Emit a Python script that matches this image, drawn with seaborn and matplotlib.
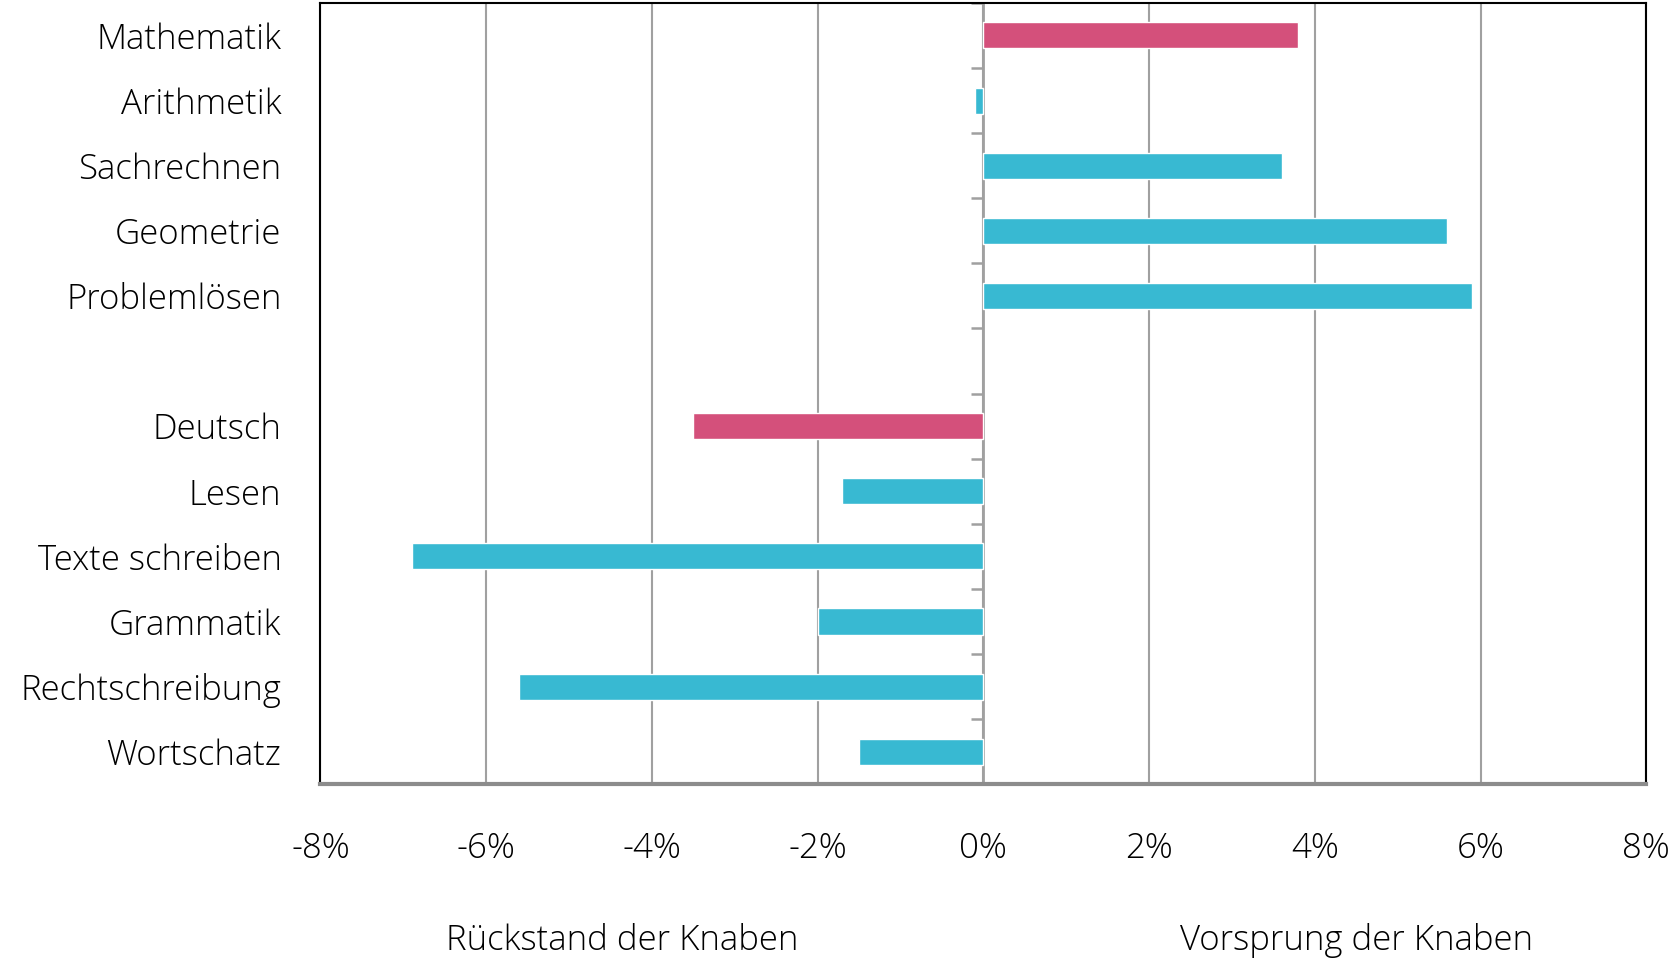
import pandas as pd
import matplotlib.pyplot as plt
import seaborn as sns
from matplotlib.ticker import FuncFormatter

# Daten: Differenz Knaben - Mädchen (in %)
faecher = ['Mathematik', 'Arithmetik', 'Sachrechnen', 'Geometrie', 'Problemlösen', ' ',
           'Deutsch', 'Lesen', 'Texte schreiben', 'Grammatik', 'Rechtschreibung', 'Wortschatz']
werte = [3.8, -0.1, 3.6, 5.6, 5.9, None,
         -3.5, -1.7, -6.9, -2.0, -5.6, -1.5]
ebene = ['Gesamt', 'Teil', 'Teil', 'Teil', 'Teil', 'Teil',
         'Gesamt', 'Teil', 'Teil', 'Teil', 'Teil', 'Teil']
x_ticks = [-8, -6, -4, -2, 0, 2, 4, 6, 8]

farben = {'Gesamt': '#D4507B', 'Teil': '#38B9D2'}

df = pd.DataFrame({'fach': faecher, 'wert': werte, 'ebene': ebene})

sns.set_theme(style='white')
plt.rcParams['font.family'] = ['Open Sans', 'DejaVu Sans']
plt.rcParams['text.color'] = 'black'

fig, ax = plt.subplots(figsize=(16.73, 9.6), dpi=100)
fig.subplots_adjust(left=0.1915, right=0.984, top=0.997, bottom=0.183)

sns.barplot(data=df, x='wert', y='fach', hue='ebene', order=faecher,
            palette=farben, dodge=False, legend=False, width=0.4,
            orient='h', ax=ax, saturation=1)

ax.set_xlim(-8, 8)
ax.set_ylim(len(faecher) - 0.5, -0.5)
ax.set_xticks(x_ticks)
ax.xaxis.set_major_formatter(FuncFormatter(lambda v, p: f'{v:.0f}%'))
ax.grid(axis='x', color='#A0A0A0', linewidth=1.5)
ax.set_axisbelow(True)

for s in ['top', 'left', 'right']:
    ax.spines[s].set_color('black')
    ax.spines[s].set_linewidth(1.5)
ax.spines['bottom'].set_color('#8C8C8C')
ax.spines['bottom'].set_linewidth(3)

ax.tick_params(axis='x', length=14, width=1.3, color='#A0A0A0', direction='out',
               pad=20, labelsize=25, labelcolor='black')
ax.tick_params(axis='y', length=0, pad=28, labelsize=25, labelcolor='black')
for t in ax.get_xticklabels() + ax.get_yticklabels():
    t.set_fontweight('light')

ax.set_xlabel('')
ax.set_ylabel('')

# Nulllinie mit Teilstrichen zwischen den Fächern (nach links)
null = ax.secondary_yaxis(0.5)
null.spines['right'].set_color('#A0A0A0')
null.spines['right'].set_linewidth(2)
null.spines['left'].set_color('#A0A0A0')
null.spines['left'].set_linewidth(2)
null.set_yticks([i - 0.5 for i in range(len(faecher) + 1)])
null.tick_params(axis='y', which='both', length=9, width=1.8, color='#A0A0A0',
                 direction='in', labelleft=False, labelright=False)

fig.text(0.372, 0.01, 'Rückstand der Knaben', ha='center', fontsize=25, fontweight='light')
fig.text(0.811, 0.01, 'Vorsprung der Knaben', ha='center', fontsize=25, fontweight='light')

plt.savefig('out.png', dpi=100)
plt.close()
